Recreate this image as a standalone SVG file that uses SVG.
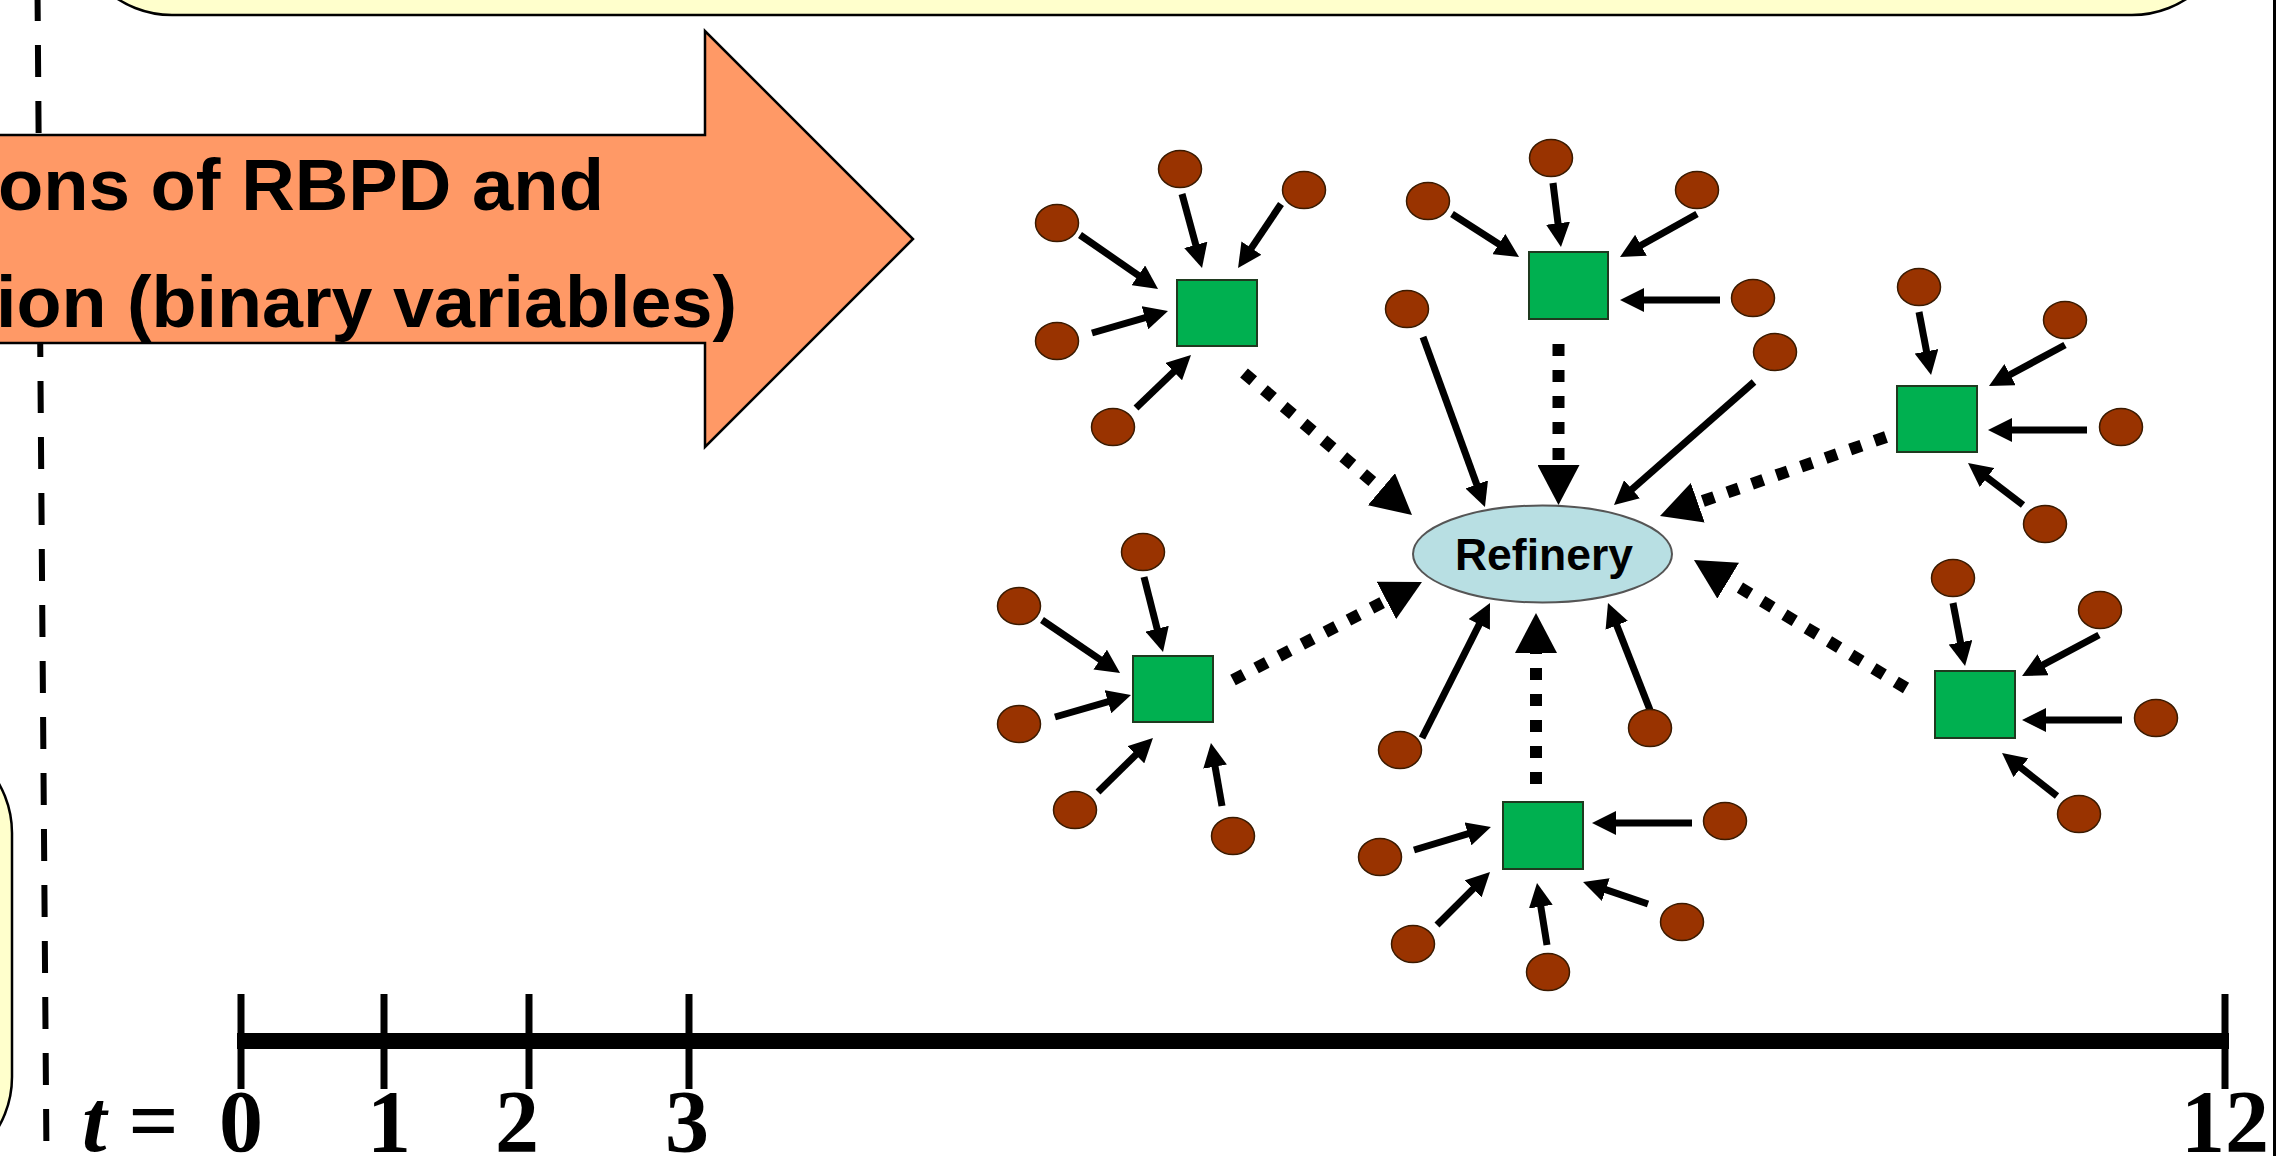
<svg xmlns="http://www.w3.org/2000/svg" width="2276" height="1156" viewBox="0 0 2276 1156">
<style>
.dot{fill:#993300;stroke:#3a1a00;stroke-width:1.5}
.sq{fill:#00B050;stroke:#1f3a1f;stroke-width:2}
.sa{stroke:#000;stroke-width:7;fill:none;marker-end:url(#ah)}
.da{stroke:#000;stroke-width:12;fill:none;stroke-dasharray:12 14;marker-end:url(#dh)}
.box{fill:#FFFFCC;stroke:#000;stroke-width:2.5}
.lbl{font-family:"Liberation Sans",Arial,sans-serif;font-weight:bold;fill:#000}
.num{font-family:"Liberation Serif","Times New Roman",serif;font-weight:bold;font-size:88px;fill:#000}
</style>
<defs>
<marker id="ah" markerUnits="userSpaceOnUse" markerWidth="24" markerHeight="24" refX="4" refY="12" orient="auto" viewBox="0 0 24 24">
<path d="M0,0 L24,12 L0,24 z" fill="#000"/>
</marker>
<marker id="dh" markerUnits="userSpaceOnUse" markerWidth="40" markerHeight="42" refX="4" refY="21" orient="auto" viewBox="0 0 40 42">
<path d="M0,0 L40,21 L0,42 z" fill="#000"/>
</marker>
</defs>
<rect width="2276" height="1156" fill="#fff"/>

<g id="top-box"><rect class="box" x="72" y="-300" width="2160" height="315" rx="100" ry="100"/></g>
<g id="left-box"><rect class="box" x="-200" y="733" width="212" height="444" rx="100" ry="100"/></g>
<g id="divider"><line x1="37.5" y1="-11" x2="46.5" y2="1160" stroke="#000" stroke-width="6" stroke-dasharray="32 24"/></g>
<g id="right-edge"><line x1="2274.5" y1="0" x2="2274.5" y2="1156" stroke="#000" stroke-width="3"/></g>

<g id="big-arrow">
<polygon points="-10,135 705,135 705,31 913,239 705,447 705,343 -10,343" fill="#FF9966" stroke="#000" stroke-width="2.5"/>
<text class="lbl" x="-2" y="210" font-size="72" textLength="606" lengthAdjust="spacingAndGlyphs">ons of RBPD and</text>
<text class="lbl" x="-4" y="327" font-size="72" textLength="741" lengthAdjust="spacingAndGlyphs">ion (binary variables)</text>
</g>

<g id="connectors">
<line class="sa" x1="1182" y1="194" x2="1196.8" y2="248.7"/>
<line class="sa" x1="1281" y1="204" x2="1249.2" y2="251.4"/>
<line class="sa" x1="1080" y1="235" x2="1141.6" y2="277.6"/>
<line class="sa" x1="1092" y1="333" x2="1148.8" y2="316.6"/>
<line class="sa" x1="1136" y1="408" x2="1176.6" y2="368.9"/>
<line class="sa" x1="1452" y1="214" x2="1502.2" y2="246.2"/>
<line class="sa" x1="1553" y1="183" x2="1558.5" y2="227.2"/>
<line class="sa" x1="1697" y1="214" x2="1637.5" y2="247.2"/>
<line class="sa" x1="1720" y1="300" x2="1640" y2="300"/>
<line class="sa" x1="1423" y1="337" x2="1478.1" y2="488.2"/>
<line class="sa" x1="1754" y1="382" x2="1629" y2="491.8"/>
<line class="sa" x1="1919" y1="312" x2="1927.3" y2="355.3"/>
<line class="sa" x1="2065" y1="345" x2="2006.6" y2="376.5"/>
<line class="sa" x1="2087" y1="430" x2="2008" y2="430"/>
<line class="sa" x1="2023" y1="505" x2="1983.9" y2="475.1"/>
<line class="sa" x1="1953" y1="603" x2="1961.3" y2="646.3"/>
<line class="sa" x1="2099" y1="635" x2="2039.7" y2="666.6"/>
<line class="sa" x1="2122" y1="720" x2="2042" y2="720"/>
<line class="sa" x1="2057" y1="796" x2="2017.8" y2="765.3"/>
<line class="sa" x1="1144" y1="577" x2="1158.1" y2="632.6"/>
<line class="sa" x1="1042" y1="620" x2="1103.5" y2="661.8"/>
<line class="sa" x1="1055" y1="717" x2="1111.8" y2="700.6"/>
<line class="sa" x1="1098" y1="792" x2="1138.7" y2="752"/>
<line class="sa" x1="1222" y1="806" x2="1214.4" y2="762.7"/>
<line class="sa" x1="1422" y1="738" x2="1481" y2="620.9"/>
<line class="sa" x1="1650" y1="710" x2="1615.3" y2="621.6"/>
<line class="sa" x1="1414" y1="850" x2="1471.8" y2="832.7"/>
<line class="sa" x1="1437" y1="925" x2="1475.9" y2="886.1"/>
<line class="sa" x1="1547" y1="945" x2="1540.2" y2="902.7"/>
<line class="sa" x1="1648" y1="904" x2="1602" y2="888.4"/>
<line class="sa" x1="1692" y1="823" x2="1612" y2="823"/>
<line class="da" x1="1244" y1="373" x2="1384.5" y2="491.8"/>
<line class="da" x1="1558.5" y1="344" x2="1558.5" y2="469"/>
<line class="da" x1="1886" y1="437" x2="1694" y2="504.1"/>
<line class="da" x1="1906" y1="688" x2="1724.8" y2="578.6"/>
<line class="da" x1="1233" y1="680" x2="1390" y2="598.6"/>
<line class="da" x1="1536" y1="784" x2="1536" y2="649"/>
</g>

<g id="refinery">
<ellipse cx="1542.5" cy="554" rx="129.5" ry="48.5" fill="#B8DFE3" stroke="#555" stroke-width="2"/>
<text class="lbl" x="1544" y="570" font-size="44" text-anchor="middle" textLength="178" lengthAdjust="spacingAndGlyphs">Refinery</text>
</g>

<g id="depot-a"><rect class="sq" x="1177" y="280" width="80" height="66"/></g>
<g id="depot-b"><rect class="sq" x="1529" y="252" width="79" height="67"/></g>
<g id="depot-c"><rect class="sq" x="1897" y="386" width="80" height="66"/></g>
<g id="depot-d"><rect class="sq" x="1935" y="671" width="80" height="67"/></g>
<g id="depot-e"><rect class="sq" x="1133" y="656" width="80" height="66"/></g>
<g id="depot-f"><rect class="sq" x="1503" y="802" width="80" height="67"/></g>

<g id="farms">
<g id="farm-a1"><ellipse class="dot" cx="1180" cy="169" rx="21.5" ry="18.5"/></g>
<g id="farm-a2"><ellipse class="dot" cx="1304" cy="190" rx="21.5" ry="18.5"/></g>
<g id="farm-a3"><ellipse class="dot" cx="1057" cy="223" rx="21.5" ry="18.5"/></g>
<g id="farm-a4"><ellipse class="dot" cx="1057" cy="341" rx="21.5" ry="18.5"/></g>
<g id="farm-a5"><ellipse class="dot" cx="1113" cy="427" rx="21.5" ry="18.5"/></g>
<g id="farm-b1"><ellipse class="dot" cx="1428" cy="201" rx="21.5" ry="18.5"/></g>
<g id="farm-b2"><ellipse class="dot" cx="1551" cy="158" rx="21.5" ry="18.5"/></g>
<g id="farm-b3"><ellipse class="dot" cx="1697" cy="190" rx="21.5" ry="18.5"/></g>
<g id="farm-b4"><ellipse class="dot" cx="1753" cy="298" rx="21.5" ry="18.5"/></g>
<g id="farm-r1"><ellipse class="dot" cx="1407" cy="309" rx="21.5" ry="18.5"/></g>
<g id="farm-r2"><ellipse class="dot" cx="1775" cy="352" rx="21.5" ry="18.5"/></g>
<g id="farm-c1"><ellipse class="dot" cx="1919" cy="287" rx="21.5" ry="18.5"/></g>
<g id="farm-c2"><ellipse class="dot" cx="2065" cy="320" rx="21.5" ry="18.5"/></g>
<g id="farm-c3"><ellipse class="dot" cx="2121" cy="427" rx="21.5" ry="18.5"/></g>
<g id="farm-c4"><ellipse class="dot" cx="2045" cy="524" rx="21.5" ry="18.5"/></g>
<g id="farm-d1"><ellipse class="dot" cx="1953" cy="578" rx="21.5" ry="18.5"/></g>
<g id="farm-d2"><ellipse class="dot" cx="2100" cy="610" rx="21.5" ry="18.5"/></g>
<g id="farm-d3"><ellipse class="dot" cx="2156" cy="718" rx="21.5" ry="18.5"/></g>
<g id="farm-d4"><ellipse class="dot" cx="2079" cy="814" rx="21.5" ry="18.5"/></g>
<g id="farm-e1"><ellipse class="dot" cx="1143" cy="552" rx="21.5" ry="18.5"/></g>
<g id="farm-e2"><ellipse class="dot" cx="1019" cy="606" rx="21.5" ry="18.5"/></g>
<g id="farm-e3"><ellipse class="dot" cx="1019" cy="724" rx="21.5" ry="18.5"/></g>
<g id="farm-e4"><ellipse class="dot" cx="1075" cy="810" rx="21.5" ry="18.5"/></g>
<g id="farm-e5"><ellipse class="dot" cx="1233" cy="836" rx="21.5" ry="18.5"/></g>
<g id="farm-r3"><ellipse class="dot" cx="1400" cy="750" rx="21.5" ry="18.5"/></g>
<g id="farm-r4"><ellipse class="dot" cx="1650" cy="728" rx="21.5" ry="18.5"/></g>
<g id="farm-f1"><ellipse class="dot" cx="1380" cy="857" rx="21.5" ry="18.5"/></g>
<g id="farm-f2"><ellipse class="dot" cx="1413" cy="944" rx="21.5" ry="18.5"/></g>
<g id="farm-f3"><ellipse class="dot" cx="1548" cy="972" rx="21.5" ry="18.5"/></g>
<g id="farm-f4"><ellipse class="dot" cx="1682" cy="922" rx="21.5" ry="18.5"/></g>
<g id="farm-f5"><ellipse class="dot" cx="1725" cy="821" rx="21.5" ry="18.5"/></g>
</g>

<g id="timeline">
<line x1="237" y1="1041" x2="2229" y2="1041" stroke="#000" stroke-width="16"/>
<g stroke="#000" stroke-width="7">
<line x1="241" y1="994" x2="241" y2="1089"/>
<line x1="384" y1="994" x2="384" y2="1089"/>
<line x1="529" y1="994" x2="529" y2="1089"/>
<line x1="689" y1="994" x2="689" y2="1089"/>
<line x1="2225" y1="994" x2="2225" y2="1089"/>
</g>
<text class="num" x="82" y="1151"><tspan font-style="italic">t</tspan> =</text>
<text class="num" x="241" y="1151" text-anchor="middle">0</text>
<text class="num" x="389" y="1151" text-anchor="middle">1</text>
<text class="num" x="517" y="1151" text-anchor="middle">2</text>
<text class="num" x="687" y="1151" text-anchor="middle">3</text>
<text class="num" x="2225" y="1151" text-anchor="middle">12</text>
</g>
</svg>
